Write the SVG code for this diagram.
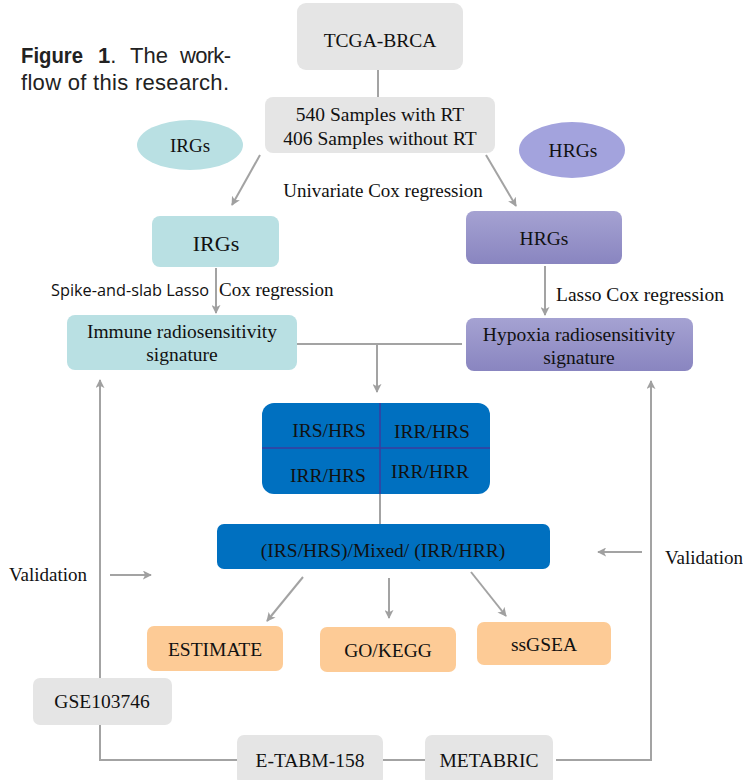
<svg xmlns="http://www.w3.org/2000/svg" width="743" height="780" viewBox="0 0 743 780">
<defs>
<marker id="ah" viewBox="0 0 10 10" refX="9" refY="5" markerWidth="4.5" markerHeight="4.5" orient="auto" markerUnits="strokeWidth">
<path d="M0,0 L10,5 L0,10 L2.5,5 Z" fill="#a0a0a0"/>
</marker>
<linearGradient id="pg" x1="0" y1="0" x2="0" y2="1">
<stop offset="0" stop-color="#a5a2d2"/>
<stop offset="1" stop-color="#8985c0"/>
</linearGradient>
<style>
.c{fill:none;stroke:#a3a3a3;stroke-width:2}
.a{marker-end:url(#ah)}
.s{font-family:"Liberation Serif","Times New Roman",serif;fill:#111;text-anchor:middle;font-size:19.5px}
.l{font-family:"Liberation Serif","Times New Roman",serif;fill:#111;font-size:19px}
.g{fill:#e5e5e5}
.t{fill:#b9e0e3}
.o{fill:#fdcb96}
.b{fill:#0070c0}
</style>
</defs>
<rect width="743" height="780" fill="#fff"/>
<g id="caption" font-family="'Liberation Sans',Arial,sans-serif" font-size="22" fill="#222">
<text y="63"><tspan x="21" font-weight="bold" textLength="62" lengthAdjust="spacingAndGlyphs">Figure</tspan><tspan x="98" font-weight="bold">1</tspan><tspan>.</tspan><tspan x="130">The</tspan><tspan x="180" textLength="51">work-</tspan></text>
<text x="21" y="90" textLength="208" lengthAdjust="spacing">flow of this research.</text>
</g>
<g id="connectors">
<line class="c" x1="378" y1="70" x2="378" y2="97"/>
<line class="c a" x1="260" y1="155" x2="232" y2="205"/>
<line class="c a" x1="486" y1="155" x2="516" y2="206"/>
<line class="c a" x1="216" y1="268" x2="216" y2="313"/>
<line class="c a" x1="545" y1="266" x2="545" y2="315"/>
<line class="c" x1="297" y1="344" x2="462" y2="344"/>
<line class="c a" x1="377" y1="344" x2="377" y2="392"/>
<line class="c" x1="380" y1="494" x2="380" y2="524"/>
<line class="c a" x1="303" y1="577" x2="267" y2="621"/>
<line class="c a" x1="389" y1="578" x2="389" y2="618"/>
<line class="c a" x1="471" y1="572" x2="506" y2="616"/>
<line class="c a" x1="110" y1="575" x2="151" y2="575"/>
<line class="c a" x1="642" y1="552" x2="598" y2="552"/>
<line class="c a" x1="100" y1="678" x2="100" y2="380"/>
<polyline class="c" points="100,725 100,760 237,760"/>
<line class="c" x1="383" y1="760" x2="425" y2="760"/>
<polyline class="c a" points="556,760 651,760 651,381"/>
</g>
<g id="tcga">
<rect class="g" x="297" y="3" width="166" height="67" rx="9"/>
<text class="s" x="380" y="47">TCGA-BRCA</text>
</g>
<g id="samples">
<rect class="g" x="265" y="97" width="230" height="56" rx="8"/>
<text class="s" x="380" y="121">540 Samples with RT</text>
<text class="s" x="380" y="145">406 Samples without RT</text>
</g>
<g id="irgs-ellipse">
<ellipse class="t" cx="190" cy="145" rx="53" ry="25"/>
<text class="s" x="190" y="152" style="font-size:19px">IRGs</text>
</g>
<g id="hrgs-ellipse">
<ellipse cx="572" cy="150" rx="53" ry="28" fill="#a3a3dd"/>
<text class="s" x="573" y="157">HRGs</text>
</g>
<g id="univariate-label">
<text class="s" x="383" y="197" style="font-size:19px">Univariate Cox regression</text>
</g>
<g id="irgs">
<rect class="t" x="152" y="216" width="127" height="51" rx="8"/>
<text class="s" x="216" y="251" style="font-size:22px">IRGs</text>
</g>
<g id="hrgs">
<rect x="466" y="211" width="156" height="53" rx="8" fill="url(#pg)"/>
<text class="s" x="544" y="245">HRGs</text>
</g>
<g id="spike-label">
<text x="51" y="296" font-family="'Open Sans','Noto Sans',sans-serif" font-size="16.3" fill="#111">Spike-and-slab Lasso</text>
<text x="219" y="296" class="l">Cox regression</text>
</g>
<g id="lasso-label">
<text x="556" y="301" class="l" style="font-size:19.5px">Lasso Cox regression</text>
</g>
<g id="immune">
<rect class="t" x="67" y="315" width="230" height="55" rx="8"/>
<text class="s" x="182" y="338">Immune radiosensitivity</text>
<text class="s" x="182" y="361">signature</text>
</g>
<g id="hypoxia">
<rect x="466" y="318" width="227" height="53" rx="8" fill="url(#pg)"/>
<text class="s" x="579" y="341">Hypoxia radiosensitivity</text>
<text class="s" x="579" y="364">signature</text>
</g>
<g id="grid">
<rect class="b" x="262" y="403" width="228" height="91" rx="12"/>
<line x1="380" y1="403" x2="380" y2="494" stroke="#3b3b9e" stroke-width="1.5"/>
<line x1="262" y1="448" x2="490" y2="448" stroke="#3b3b9e" stroke-width="1.5"/>
<text class="s" x="329" y="437">IRS/HRS</text>
<text class="s" x="432" y="438">IRR/HRS</text>
<text class="s" x="328" y="482">IRR/HRS</text>
<text class="s" x="430" y="478">IRR/HRR</text>
</g>
<g id="mixed">
<rect class="b" x="217" y="524" width="333" height="45" rx="7"/>
<text class="s" x="383" y="557">(IRS/HRS)/Mixed/ (IRR/HRR)</text>
</g>
<g id="validation-left">
<text x="9" y="581" class="l">Validation</text>
</g>
<g id="validation-right">
<text x="665" y="564" class="l">Validation</text>
</g>
<g id="estimate">
<rect class="o" x="147" y="626" width="136" height="45" rx="7"/>
<text class="s" x="215" y="656">ESTIMATE</text>
</g>
<g id="gokegg">
<rect class="o" x="320" y="627" width="136" height="45" rx="7"/>
<text class="s" x="388" y="657">GO/KEGG</text>
</g>
<g id="ssgsea">
<rect class="o" x="477" y="622" width="134" height="43" rx="7"/>
<text class="s" x="544" y="651">ssGSEA</text>
</g>
<g id="gse">
<rect class="g" x="33" y="678" width="139" height="47" rx="7"/>
<text class="s" x="102" y="708">GSE103746</text>
</g>
<g id="etabm">
<rect class="g" x="237" y="735" width="146" height="50" rx="7"/>
<text class="s" x="310" y="767">E-TABM-158</text>
</g>
<g id="metabric">
<rect class="g" x="425" y="735" width="128" height="50" rx="7"/>
<text class="s" x="489" y="767">METABRIC</text>
</g>
</svg>
